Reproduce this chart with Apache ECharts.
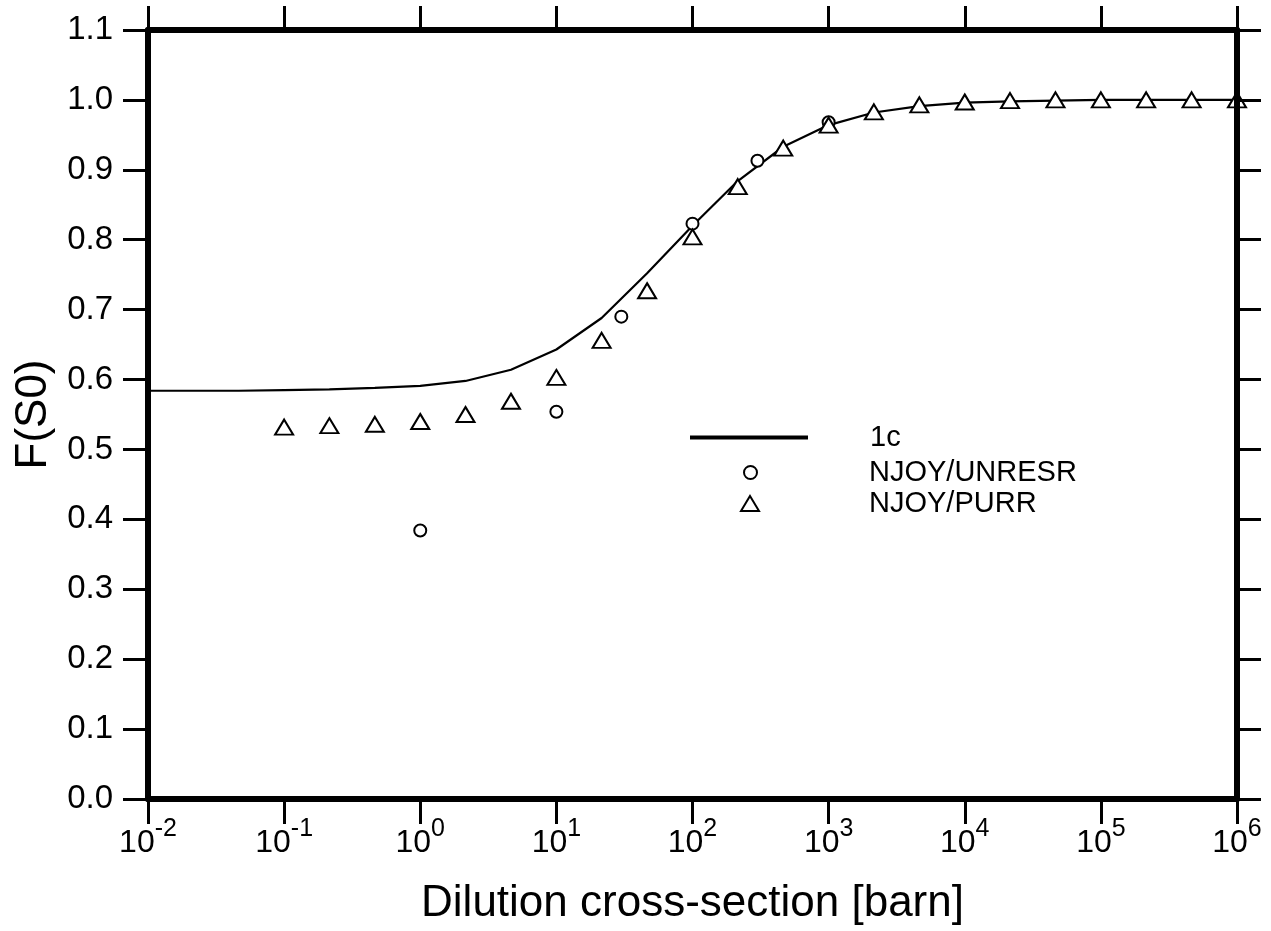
<!DOCTYPE html>
<html>
<head>
<meta charset="utf-8">
<script src="https://cdn.jsdelivr.net/npm/echarts@6/dist/echarts.min.js"></script>
<style>
html,body{margin:0;padding:0;background:#fff;}
#chart{width:1271px;height:931px;}
</style>
</head>
<body>
<div id="chart"></div>
<script>
// ---- data ----
const lineX = [0.01, 0.0215, 0.0464, 0.1, 0.215, 0.464, 1, 2.15, 4.64, 10, 21.5, 46.4, 100, 215, 464, 1000, 2150, 4640, 10000, 21500, 46400, 100000, 215000, 464000, 1000000];
const lineY = [0.584, 0.584, 0.584, 0.585, 0.586, 0.588, 0.591, 0.598, 0.614, 0.643, 0.688, 0.752, 0.820, 0.884, 0.933, 0.964, 0.982, 0.991, 0.996, 0.998, 0.999, 1.0, 1.0, 1.0, 1.0];

const unresrX = [1, 10, 30, 100, 300, 1000];
const unresrY = [0.384, 0.554, 0.690, 0.823, 0.913, 0.968];

const purrX = [0.1, 0.215, 0.464, 1, 2.15, 4.64, 10, 21.5, 46.4, 100, 215, 464, 1000, 2150, 4640, 10000, 21500, 46400, 100000, 215000, 464000, 1000000];
const purrY = [0.532, 0.534, 0.536, 0.540, 0.550, 0.569, 0.603, 0.656, 0.727, 0.804, 0.876, 0.931, 0.964, 0.983, 0.993, 0.997, 0.999, 1.0, 1.0, 1.0, 1.0, 1.0];

const seriesNames = ['1c', 'NJOY/UNRESR', 'NJOY/PURR'];
const xTitle = 'Dilution cross-section [barn]';
const yTitle = 'F(S0)';

function zip(xs, ys) { return xs.map((x, i) => [x, ys[i]]); }

const FONT = '"Liberation Sans", Arial, sans-serif';
const axisLineStyle = { color: '#000', width: 6 };
const tickStyle = { color: '#000', width: 3 };

function legendText(gap) {
  return {
    formatter: function (name) { return '{g|}{t|' + name + '}'; },
    textStyle: {
      rich: {
        g: { width: gap, height: 10 },
        t: { fontFamily: FONT, fontSize: 29, color: '#000', lineHeight: 30 }
      }
    }
  };
}

const chart = echarts.init(document.getElementById('chart'), null, { renderer: 'canvas' });

const option = {
  animation: false,
  backgroundColor: '#fff',
  grid: { left: 148, right: 34, top: 30, bottom: 128, containLabel: false },
  xAxis: [
    {
      type: 'log', logBase: 10, min: 0.01, max: 1000000, interval: 1,
      position: 'bottom',
      name: xTitle, nameLocation: 'middle', nameGap: 83,
      nameTextStyle: { fontFamily: FONT, fontSize: 44, color: '#000' },
      axisLine: { show: true, onZero: false, lineStyle: axisLineStyle },
      axisTick: { show: true, inside: false, length: 25, lineStyle: tickStyle },
      splitLine: { show: false }, minorTick: { show: false },
      axisLabel: {
        margin: 18,
        formatter: function (v) {
          const e = Math.round(Math.log10(v));
          return '{b|10}{s|' + e + '}';
        },
        rich: {
          b: { fontFamily: FONT, fontSize: 32, color: '#000', lineHeight: 42, verticalAlign: 'bottom' },
          s: { fontFamily: FONT, fontSize: 25, color: '#000', lineHeight: 25, verticalAlign: 'top' }
        }
      }
    },
    {
      type: 'log', logBase: 10, min: 0.01, max: 1000000, interval: 1,
      position: 'top',
      axisLine: { show: true, onZero: false, lineStyle: axisLineStyle },
      axisTick: { show: true, inside: false, length: 24, lineStyle: tickStyle },
      axisLabel: { show: false },
      splitLine: { show: false }
    }
  ],
  yAxis: [
    {
      type: 'value', min: 0, max: 1.1, interval: 0.1,
      position: 'left',
      name: yTitle, nameLocation: 'middle', nameGap: 90, nameRotate: 90,
      nameTextStyle: { fontFamily: FONT, fontSize: 44, color: '#000' },
      axisLine: { show: true, onZero: false, lineStyle: axisLineStyle },
      axisTick: { show: true, inside: false, length: 25, lineStyle: tickStyle },
      splitLine: { show: false },
      axisLabel: {
        margin: 35,
        fontFamily: FONT, fontSize: 33, color: '#000',
        formatter: function (v) { return v.toFixed(1); }
      }
    },
    {
      type: 'value', min: 0, max: 1.1, interval: 0.1,
      position: 'right', z: 5,
      axisLine: { show: true, onZero: false, lineStyle: axisLineStyle },
      axisTick: { show: true, inside: false, length: 24, lineStyle: tickStyle },
      axisLabel: { show: false },
      splitLine: { show: false }
    }
  ],
  legend: [
    Object.assign({
      data: [{ name: seriesNames[0], icon: 'rect' }], orient: 'vertical', left: 690, top: 423,
      itemWidth: 118, itemHeight: 4, padding: 0, itemGap: 0,
      selectedMode: false
    }, legendText(57)),
    Object.assign({
      data: [{ name: seriesNames[1], icon: 'circle' }], orient: 'vertical', left: 743, top: 458,
      itemWidth: 13, itemHeight: 13, padding: 0, itemGap: 0,
      selectedMode: false
    }, legendText(107)),
    Object.assign({
      data: [{ name: seriesNames[2], icon: 'triangle' }], orient: 'vertical', left: 740, top: 489,
      itemWidth: 18, itemHeight: 15, padding: 0, itemGap: 0,
      selectedMode: false
    }, legendText(105))
  ],
  series: [
    {
      name: seriesNames[0], type: 'line', xAxisIndex: 0, yAxisIndex: 0,
      data: zip(lineX, lineY), symbol: 'none', showSymbol: false, smooth: false,
      lineStyle: { color: '#000', width: 2.2 }, itemStyle: { color: '#000' }, z: 2
    },
    {
      name: seriesNames[1], type: 'scatter', xAxisIndex: 0, yAxisIndex: 0,
      data: zip(unresrX, unresrY), symbol: 'circle', symbolSize: 12,
      itemStyle: { color: '#fff', borderColor: '#000', borderWidth: 2, opacity: 1 }, z: 3
    },
    {
      name: seriesNames[2], type: 'scatter', xAxisIndex: 0, yAxisIndex: 0,
      data: zip(purrX, purrY), symbol: 'triangle', symbolSize: [18, 15],
      itemStyle: { color: '#fff', borderColor: '#000', borderWidth: 2, opacity: 1 }, z: 4
    }
  ]
};
chart.setOption(option);
</script>
</body>
</html>
